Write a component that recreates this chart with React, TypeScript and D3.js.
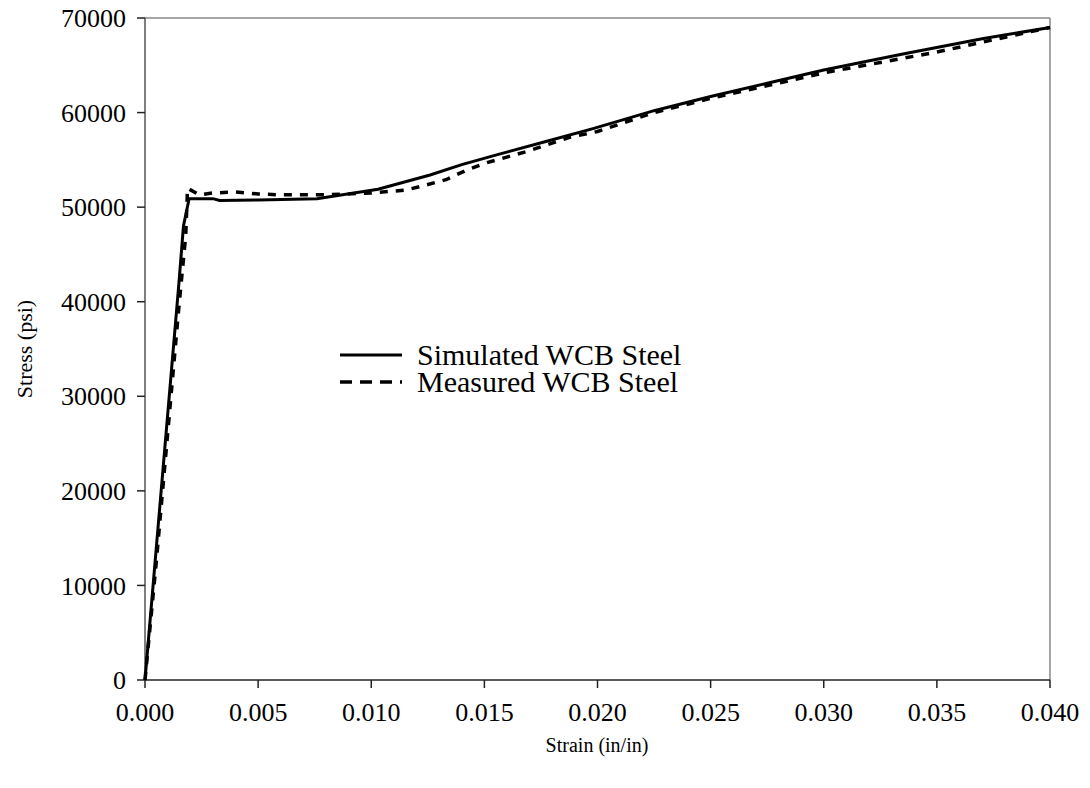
import React from "react";
import * as d3 from "d3";

const simStrain = [0, 0.0005, 0.001, 0.0015, 0.0017, 0.00195, 0.003, 0.0033, 0.005, 0.0076, 0.0103, 0.0126, 0.014, 0.0155, 0.0178, 0.0198, 0.0225, 0.025, 0.0275, 0.03, 0.0335, 0.037, 0.04];
const simStress = [0, 14000, 28000, 42000, 48000, 50900, 50900, 50700, 50750, 50900, 51900, 53400, 54500, 55500, 57000, 58300, 60200, 61700, 63100, 64500, 66200, 67800, 69000];

const measStrain = [0, 0.0005, 0.001, 0.0015, 0.0018, 0.00188, 0.0024, 0.003, 0.004, 0.005, 0.006, 0.008, 0.01, 0.0115, 0.0122, 0.0133, 0.0142, 0.0151, 0.0169, 0.0188, 0.02, 0.0225, 0.025, 0.03, 0.035, 0.04];
const measStress = [0, 12500, 26000, 39500, 47000, 52000, 51300, 51500, 51600, 51400, 51300, 51300, 51500, 51800, 52200, 52900, 53900, 54700, 55900, 57400, 58000, 60000, 61500, 64200, 66400, 69000];

const xTicks = [0, 0.005, 0.01, 0.015, 0.02, 0.025, 0.03, 0.035, 0.04];
const yTicks = [0, 10000, 20000, 30000, 40000, 50000, 60000, 70000];

const legendLabels = ["Simulated WCB Steel", "Measured WCB Steel"];

export default function App() {
  const left = 145, right = 1050, top = 18, bottom = 680;
  const x = d3.scaleLinear().domain([0, 0.04]).range([left, right]);
  const y = d3.scaleLinear().domain([0, 70000]).range([bottom, top]);
  const line = d3.line<[number, number]>().x(d => x(d[0])).y(d => y(d[1]));
  const simPts = simStrain.map((s, i) => [s, simStress[i]] as [number, number]);
  const measPts = measStrain.map((s, i) => [s, measStress[i]] as [number, number]);
  const font = "'Liberation Serif', 'Times New Roman', serif";
  return (
    <svg width={1090} height={788} style={{ position: "absolute", left: 0, top: 0, background: "#fff" }}>
      <rect x={0} y={0} width={1090} height={788} fill="#fff" />
      <line x1={left} x2={right} y1={top} y2={top} stroke="#888" strokeWidth={1.5} />
      <line x1={right} x2={right} y1={top} y2={bottom} stroke="#888" strokeWidth={1.5} />
      <line x1={left} x2={left} y1={top} y2={bottom} stroke="#555" strokeWidth={1.5} />
      <line x1={left} x2={right} y1={bottom} y2={bottom} stroke="#222" strokeWidth={1.5} />
      {yTicks.map(t => (
        <g key={"y" + t}>
          <line x1={left - 8} x2={left} y1={y(t)} y2={y(t)} stroke="#222" strokeWidth={1.5} />
          <text x={left - 19} y={y(t)} dy="0.35em" textAnchor="end" fontFamily={font} fontSize={26}>{t}</text>
        </g>
      ))}
      {xTicks.map(t => (
        <g key={"x" + t}>
          <line x1={x(t)} x2={x(t)} y1={bottom} y2={bottom + 8} stroke="#222" strokeWidth={1.5} />
          <text x={x(t)} y={bottom + 41} textAnchor="middle" fontFamily={font} fontSize={26}>{t.toFixed(3)}</text>
        </g>
      ))}
      <text x={597} y={752} textAnchor="middle" fontFamily={font} fontSize={20}>Strain (in/in)</text>
      <text transform="translate(32,349) rotate(-90)" textAnchor="middle" fontFamily={font} fontSize={22}>Stress (psi)</text>
      <path d={line(measPts) || ""} fill="none" stroke="#000" strokeWidth={3.5} strokeDasharray="8,8" />
      <path d={line(simPts) || ""} fill="none" stroke="#000" strokeWidth={3} />
      <line x1={340} x2={402} y1={355} y2={355} stroke="#000" strokeWidth={3} />
      <line x1={340} x2={402} y1={382} y2={382} stroke="#000" strokeWidth={3.5} strokeDasharray="12,8" />
      <text x={417} y={365} fontFamily={font} fontSize={30}>{legendLabels[0]}</text>
      <text x={417} y={392} fontFamily={font} fontSize={30}>{legendLabels[1]}</text>
    </svg>
  );
}
